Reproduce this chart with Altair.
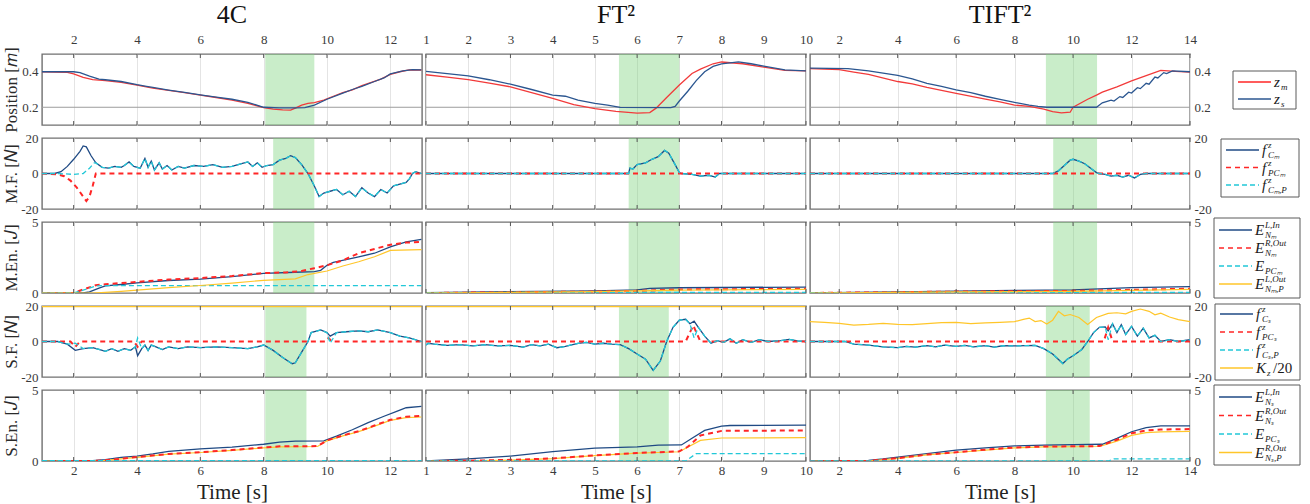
import altair as alt
import pandas as pd

FONT = "Liberation Serif"
W, H = 380, 71

# ---------------- data (time [s], value) ----------------
# column 1 : 4C
zm_4c = [(1.0,.400),(1.8,.396),(2.0,.388),(2.3,.368),(2.6,.356),(3.0,.350),(3.5,.340),(4.0,.325),(4.5,.308),(5.0,.295),(5.5,.282),(6.0,.268),(6.5,.255),(7.0,.240),(7.5,.222),(8.0,.198),(8.3,.190),(8.6,.185),(8.85,.184),(9.0,.195),(9.2,.212),(9.4,.222),(9.6,.226),(9.9,.240),(10.2,.262),(10.5,.282),(10.8,.298),(11.1,.322),(11.4,.340),(11.7,.358),(12.0,.385),(12.3,.400),(12.6,.410),(12.98,.410)]
zs_4c = [(1.0,.400),(2.0,.400),(2.2,.395),(2.5,.375),(2.8,.358),(3.0,.355),(3.5,.345),(4.0,.327),(4.3,.318),(4.5,.312),(5.0,.297),(5.5,.284),(6.0,.270),(6.5,.257),(7.0,.245),(7.5,.228),(8.0,.200),(8.5,.196),(9.0,.196),(9.3,.198),(9.6,.212),(10.0,.245),(10.5,.280),(10.8,.300),(11.1,.318),(11.5,.345),(11.8,.365),(12.0,.388),(12.4,.405),(12.7,.412),(12.98,.410)]
fcm_4c = [(1.0,0),(1.4,0),(1.6,1),(1.8,4),(2.0,8),(2.2,12.5),(2.3,15.5),(2.4,15),(2.55,10),(2.7,6),(2.9,3.5),(3.1,3),(3.3,4),(3.5,3.5),(3.6,4.5),(3.75,6.5),(3.9,4),(4.1,3),(4.25,8.5),(4.35,3.5),(4.45,7),(4.55,2),(4.7,6),(4.8,2.5),(4.95,4.5),(5.1,2),(5.3,4),(5.5,3),(5.8,4.5),(6.1,4),(6.4,5),(6.7,3.5),(7.0,4),(7.3,5.5),(7.5,6.5),(7.65,4),(7.8,6),(7.95,3.5),(8.1,4.5),(8.3,5),(8.5,7.5),(8.7,8.5),(8.85,10),(9.0,9),(9.2,5),(9.4,0),(9.6,-7),(9.75,-13),(9.9,-11),(10.1,-10),(10.3,-9),(10.5,-12),(10.7,-10),(10.9,-13),(11.1,-8),(11.3,-11),(11.5,-13),(11.7,-9),(11.9,-11),(12.1,-7),(12.3,-6),(12.5,-5),(12.6,-3),(12.7,0),(12.8,1),(12.98,0)]
fcmp_4c_start = [(1.0,0),(1.5,0),(2.0,-0.5),(2.3,0),(2.5,3),(2.65,6)]
fpcm_4c = [(1.0,0),(1.5,-0.5),(1.7,-1.5),(1.9,-4),(2.1,-8),(2.3,-13),(2.4,-15.5),(2.5,-13),(2.6,-7),(2.7,0),(12.98,0)]
eml_4c = [(1,0),(2.3,0),(2.5,0.08),(2.8,0.35),(3.0,0.5),(3.5,0.6),(4.0,0.72),(5.0,0.88),(6.0,0.98),(7.0,1.15),(8.0,1.38),(9.0,1.46),(9.6,1.5),(9.8,1.6),(10.0,1.95),(10.2,2.15),(10.6,2.35),(11.0,2.55),(11.5,2.8),(12.0,3.25),(12.5,3.6),(12.98,3.78)]
emr_4c = [(1,0),(2.0,0),(2.3,0.25),(2.7,0.55),(3.0,0.62),(4.0,0.78),(5.0,0.95),(6.0,1.05),(7.0,1.2),(8.0,1.4),(8.7,1.45),(9.2,1.55),(9.6,1.75),(10.0,1.95),(10.5,2.3),(11.0,2.8),(11.5,3.1),(12.0,3.4),(12.5,3.55),(12.98,3.6)]
emc_4c = [(1,0),(2.0,0),(2.3,0.2),(2.7,0.5),(3.0,0.52),(12.98,0.52)]
emp_4c = [(1,0),(2.6,0),(3.0,0.05),(3.5,0.12),(4.0,0.2),(5.0,0.38),(6.0,0.53),(7.0,0.7),(8.0,0.89),(9.0,1.0),(9.4,1.3),(10.0,1.55),(10.5,1.9),(11.0,2.2),(11.5,2.55),(12.0,3.0),(12.98,3.05)]
kz_4c = [(1,19.6),(12.98,19.6)]
fcs_4c = [(1,0),(1.5,0),(1.8,-1.5),(2.05,-5),(2.3,-4),(2.6,-3.5),(2.8,-4.5),(3.0,-5.5),(3.2,-4),(3.4,-5.5),(3.6,-4),(3.8,-5),(3.95,-3),(4.02,-8),(4.15,-4),(4.25,-2),(4.35,-5),(4.45,-2),(4.6,-3),(4.8,-4.5),(5.0,-3),(5.3,-4),(5.6,-3),(6.0,-3.5),(6.5,-3),(7.0,-3.5),(7.5,-4),(7.8,-3),(8.0,-2),(8.3,-5),(8.6,-9),(8.9,-12.5),(9.0,-12),(9.2,-6),(9.4,0),(9.5,5),(9.8,6.5),(10.0,5),(10.1,3),(10.3,5),(10.6,5.5),(11.0,6),(11.3,5.5),(11.6,6.5),(12.0,5),(12.3,3),(12.6,2),(12.98,0)]
fcsp_4c_spikes = {2.05: -1.0, 4.02: 2.0, 10.1: -1.0}
fpcs_4c = [(1,0),(1.9,0),(2.05,-3),(2.2,0),(3.9,0),(4.02,-3),(4.15,0),(9.95,0),(10.05,2),(10.15,0),(12.98,0)]
esl_4c = [(1,0),(2.5,0),(3.0,0.1),(3.5,0.25),(4.0,0.35),(4.5,0.5),(5.0,0.68),(6.0,0.85),(7.0,0.97),(8.0,1.18),(8.5,1.33),(9.0,1.4),(9.9,1.42),(10.3,1.75),(10.8,2.2),(11.3,2.7),(11.8,3.15),(12.2,3.5),(12.5,3.75),(12.98,3.85)]
esr_4c = [(1,0),(2.5,0),(3.0,0.05),(4.0,0.28),(5.0,0.5),(6.0,0.62),(7.0,0.77),(8.0,0.95),(8.5,1.03),(9.7,1.05),(10.0,1.45),(10.5,1.8),(11.0,2.1),(11.5,2.5),(12.0,2.9),(12.5,3.12),(12.98,3.18)]
esc_4c = [(1,0.02),(12.98,0.02)]
esp_4c = [(1,0),(2.5,0),(3.0,0.04),(4.0,0.25),(5.0,0.48),(6.0,0.6),(7.0,0.75),(8.0,0.93),(8.5,1.0),(9.7,1.02),(10.0,1.42),(10.5,1.77),(11.0,2.07),(11.5,2.46),(12.0,2.86),(12.5,3.06),(12.98,3.1)]

# column 2 : FT^2
zm_ft = [(1,.383),(1.5,.370),(2,.356),(2.5,.336),(3,.315),(3.5,.283),(4,.250),(4.5,.215),(5,.192),(5.5,.177),(6,.167),(6.3,.170),(6.45,.195),(6.7,.255),(7.0,.325),(7.3,.390),(7.5,.415),(7.8,.445),(8,.455),(8.5,.445),(9,.426),(9.5,.408),(10,.405)]
zs_ft = [(1,.402),(1.5,.390),(2,.377),(2.5,.355),(3,.330),(3.5,.300),(4,.268),(4.3,.262),(4.6,.240),(5,.222),(5.3,.212),(5.6,.199),(6.8,.198),(6.9,.205),(7.0,.235),(7.2,.290),(7.4,.350),(7.6,.400),(7.8,.430),(8.0,.444),(8.4,.456),(8.7,.445),(9,.432),(9.5,.410),(10,.405)]
fcm_ft = [(1,0),(5.8,0),(5.83,3),(5.9,2.5),(6.0,5),(6.2,6),(6.35,8),(6.5,9.5),(6.65,13),(6.75,11.5),(6.9,5),(7.0,0.5),(7.05,0),(7.3,-0.5),(7.5,-1.5),(7.7,-1),(7.85,-2),(7.95,0),(10,0)]
fpcm_ft = [(1,0),(10,0)]
eml_ft = [(1,0.03),(5,0.15),(6,0.22),(6.3,0.33),(7,0.37),(10,0.42)]
emr_ft = [(1,0),(5,0.1),(6,0.15),(7,0.25),(10,0.3)]
emc_ft = [(1,0.03),(10,0.05)]
emp_ft = [(1,0),(5,0.1),(7,0.2),(10,0.25)]
kz_ft = [(1,19.6),(10,19.6)]
fcs_ft = [(1,-2),(1.05,-1),(1.2,-1.5),(1.5,-2.2),(1.8,-1.8),(2.1,-2.5),(2.4,-1.8),(2.7,-2.5),(3.0,-2.2),(3.3,-3.2),(3.5,-1.8),(3.7,-2.5),(3.9,-1.5),(4.1,-3.5),(4.3,-2.8),(4.6,-1),(4.8,-0.5),(5.0,-1.5),(5.2,-1),(5.4,-1.5),(5.6,-1.8),(5.8,-4),(6.0,-7),(6.2,-10),(6.38,-16.3),(6.55,-11),(6.7,0),(6.85,8),(7.0,12),(7.15,12.5),(7.25,10),(7.35,11.5),(7.45,8),(7.6,3),(7.75,-1),(7.9,0.5),(8.05,-0.5),(8.2,1.5),(8.35,-1),(8.5,1),(8.7,-0.5),(8.9,1),(9.1,0),(9.4,0.5),(9.6,1.2),(9.8,0.3),(10,0)]
fcsp_ft_spikes = {7.35: 2.0}
fpcs_ft = [(1,0),(7.15,0),(7.33,9),(7.5,0),(10,0)]
esl_ft = [(1,0),(2,0.15),(3,0.35),(4,0.66),(5,0.9),(6,1.0),(6.5,1.12),(7.05,1.13),(7.3,1.6),(7.6,2.15),(8,2.45),(8.2,2.5),(10,2.52)]
esr_ft = [(1,0),(2,0.02),(3,0.08),(4,0.18),(5,0.4),(6,0.57),(6.5,0.62),(7,0.68),(7.2,1.0),(7.5,1.8),(8,2.12),(10,2.15)]
esc_ft = [(1,0),(7.15,0),(7.4,0.52),(10,0.52)]
esp_ft = [(1,0),(2,0.01),(3,0.06),(4,0.17),(5,0.38),(6,0.55),(6.5,0.6),(7,0.65),(7.15,0.9),(7.5,1.45),(8,1.62),(10,1.65)]

# column 3 : TIFT^2
zm_ti = [(1,.418),(2,.412),(2.5,.398),(3,.385),(4,.345),(4.5,.332),(5,.312),(6,.278),(7,.246),(7.5,.230),(8,.212),(8.5,.205),(9,.190),(9.3,.175),(9.6,.168),(9.9,.172),(10.0,.20),(10.5,.245),(10.8,.268),(11,.285),(11.5,.315),(12,.348),(12.5,.378),(13,.408),(13.5,.402),(14,.398)]
zs_ti = [(1,.42),(2.3,.418),(3,.405),(4,.38),(4.5,.36),(5,.335),(5.5,.318),(6,.298),(6.5,.282),(7,.262),(7.5,.245),(8,.227),(8.5,.212),(8.8,.205),(9.1,.2),(10.8,.2),(11,.225),(11.3,.24),(11.4,.235),(11.6,.26),(11.7,.255),(11.9,.285),(12.0,.28),(12.2,.31),(12.3,.305),(12.5,.335),(12.6,.33),(12.8,.37),(12.9,.365),(13.1,.395),(13.2,.39),(13.4,.405),(14,.40)]
fcm_ti = [(1,0),(9.3,0),(9.5,1.5),(9.7,4.5),(9.9,7.5),(10.0,8),(10.2,7),(10.4,5.5),(10.6,3),(10.8,0.5),(10.9,0),(11.1,-0.5),(11.3,-1.5),(11.5,-1),(11.7,-2),(11.9,-1),(12.1,-2.5),(12.3,-0.5),(12.5,0),(14,0)]
fpcm_ti = [(1,0),(14,0)]
eml_ti = [(1,0),(4,0.08),(8,0.18),(10,0.22),(12,0.38),(14,0.45)]
emr_ti = [(1,0),(6,0.1),(10,0.15),(14,0.3)]
emc_ti = [(1,0.03),(14,0.05)]
emp_ti = [(1,0),(6,0.08),(10,0.12),(14,0.25)]
kz_ti = [(1,11.2),(1.5,10.8),(2,10.2),(2.5,9.2),(3,9.6),(3.5,10.2),(4,9.6),(4.5,9.5),(5,10.1),(5.5,10.6),(6,10.8),(6.5,10.1),(7,10.5),(7.5,10.8),(8,11.2),(8.3,12.5),(8.5,13.2),(8.7,11.2),(8.9,11.8),(9.1,9.8),(9.3,12),(9.5,17),(9.7,14.5),(9.9,15.2),(10.2,13.5),(10.5,9.6),(10.8,13.5),(11.2,15.8),(11.5,16.2),(11.8,15.6),(12.0,17),(12.3,18.3),(12.6,17),(12.8,15),(13,16),(13.3,13.8),(13.6,12.3),(14,11.2)]
fcs_ti = [(1,0),(2.2,0),(2.5,-1.5),(3,-2),(3.5,-3),(4,-3.5),(4.3,-2.8),(4.6,-3.2),(5,-2.3),(5.3,-3),(5.6,-2),(6,-2.8),(6.3,-2.2),(6.6,-3),(7,-2.3),(7.3,-3.2),(7.6,-2.4),(8,-2.5),(8.7,-2.2),(9.0,-4),(9.3,-7),(9.65,-12.4),(9.8,-10),(10.0,-8),(10.3,-4.5),(10.5,0),(10.7,5),(10.9,8),(11.1,8.2),(11.2,6),(11.35,10),(11.5,5),(11.65,9.5),(11.8,4),(12.0,8.5),(12.2,3),(12.4,7.5),(12.6,2),(12.8,3.5),(13,0),(13.3,1),(13.6,0),(14,1)]
fcsp_ti_spikes = {11.2: 1.0}
fpcs_ti = [(1,0),(11.05,0),(11.2,8),(11.35,0),(14,0)]
esl_ti = [(1,0),(3,0.05),(3.5,0.15),(4,0.28),(5,0.52),(6,0.76),(7,0.92),(8,1.06),(9,1.12),(10,1.16),(11,1.18),(11.5,1.6),(12,2.06),(12.5,2.35),(13,2.48),(14,2.48)]
esr_ti = [(1,0),(3,0),(4,0.2),(5,0.45),(6,0.62),(7,0.8),(8,0.95),(9,1.02),(10.9,1.05),(11.5,1.5),(12,1.95),(12.5,2.15),(13,2.22),(14,2.25)]
esc_ti = [(1,0),(11.2,0),(11.4,0.15),(14,0.15)]
esp_ti = [(1,0),(3,0),(4,0.18),(5,0.43),(6,0.6),(7,0.77),(8,0.92),(9,1.0),(10.9,1.02),(11.5,1.4),(12,1.8),(12.5,2.0),(13,2.05),(14,2.08)]

# contact (green) intervals per row
bands_4c = [(8.05, 9.6), (8.3, 9.6), (8.3, 9.6), (8.05, 9.35), (8.05, 9.35)]
bands_ft = [(5.57, 7.0), (5.8, 7.0), (5.8, 7.0), (5.57, 6.75), (5.57, 6.75)]
bands_ti = [(9.07, 10.82), (9.32, 10.82), (9.32, 10.82), (9.07, 10.57), (9.07, 10.57)]

pos_ref = [0.2]

col_titles = ["4C", "FT\u00b2", "TIFT\u00b2"]
x_domains = [[1, 13], [1, 10], [1, 14]]
x_ticks = [[2, 4, 6, 8, 10, 12], [1, 2, 3, 4, 5, 6, 7, 8, 9, 10], [2, 4, 6, 8, 10, 12, 14]]
y_domains = [[0.1, 0.5], [-20, 20], [0, 5], [-20, 20], [0, 5]]
y_ticks = [[0.2, 0.4], [-20, 0, 20], [0, 5], [-20, 0, 20], [0, 5]]
y_titles = ["Position [\U0001D45A]", "M.F. [\U0001D441]", "M.En. [\U0001D43D]", "S.F. [\U0001D441]", "S.En. [\U0001D43D]"]
x_title = "Time [s]"

# ---------------- styles ----------------
RED = "#ff2626"
BLUE = "#1f4a84"
CYAN = "#22c8d8"
YEL = "#ffc62a"
S_POS_M = dict(color="#f23a3a", strokeWidth=1.3)
S_POS_S = dict(color="#2b5690", strokeWidth=1.3)
S_BLUE = dict(color=BLUE, strokeWidth=1.3)
S_RED = dict(color=RED, strokeWidth=2.0, strokeDash=[5, 4])
S_CYAN = dict(color=CYAN, strokeWidth=1.3, strokeDash=[5, 3])
S_YEL = dict(color=YEL, strokeWidth=1.2)


def with_spikes(pts, spikes):
    return [(t, spikes.get(t, v)) for t, v in pts]


series = [
    [  # 4C
        [(zm_4c, S_POS_M), (zs_4c, S_POS_S)],
        [(fcm_4c, S_BLUE), (fpcm_4c, S_RED), (fcmp_4c_start + [p for p in fcm_4c if p[0] >= 2.7], S_CYAN)],
        [(eml_4c, S_BLUE), (emr_4c, S_RED), (emc_4c, S_CYAN), (emp_4c, S_YEL)],
        [(kz_4c, S_YEL), (fcs_4c, S_BLUE), (fpcs_4c, S_RED), (with_spikes(fcs_4c, fcsp_4c_spikes), S_CYAN)],
        [(esl_4c, S_BLUE), (esp_4c, S_YEL), (esr_4c, S_RED), (esc_4c, S_CYAN)],
    ],
    [  # FT2
        [(zm_ft, S_POS_M), (zs_ft, S_POS_S)],
        [(fcm_ft, S_BLUE), (fpcm_ft, S_RED), (fcm_ft, S_CYAN)],
        [(eml_ft, S_BLUE), (emr_ft, S_RED), (emc_ft, S_CYAN), (emp_ft, S_YEL)],
        [(kz_ft, S_YEL), (fcs_ft, S_BLUE), (fpcs_ft, S_RED), (with_spikes(fcs_ft, fcsp_ft_spikes), S_CYAN)],
        [(esl_ft, S_BLUE), (esp_ft, S_YEL), (esr_ft, S_RED), (esc_ft, S_CYAN)],
    ],
    [  # TIFT2
        [(zm_ti, S_POS_M), (zs_ti, S_POS_S)],
        [(fcm_ti, S_BLUE), (fpcm_ti, S_RED), (fcm_ti, S_CYAN)],
        [(eml_ti, S_BLUE), (emr_ti, S_RED), (emc_ti, S_CYAN), (emp_ti, S_YEL)],
        [(kz_ti, S_YEL), (fcs_ti, S_BLUE), (fpcs_ti, S_RED), (with_spikes(fcs_ti, fcsp_ti_spikes), S_CYAN)],
        [(esl_ti, S_BLUE), (esp_ti, S_YEL), (esr_ti, S_RED), (esc_ti, S_CYAN)],
    ],
]
bands = [bands_4c, bands_ft, bands_ti]

LABEL_EXPR = "'' + datum.value"


def panel(c, r):
    xsc = alt.Scale(domain=x_domains[c], nice=False, zero=False)
    ysc = alt.Scale(domain=y_domains[r], nice=False, zero=False)
    xa = dict(values=x_ticks[c], grid=True, gridColor="#e4e4e4", gridWidth=1, ticks=False, domain=False,
              labelFont=FONT, labelFontSize=13, labelColor="#3a3a3a", labelFlush=False, labelOverlap=False,
              labelExpr=LABEL_EXPR)
    if r == 0:
        xaxis = alt.Axis(orient="top", labels=True, labelPadding=8, title=None, **xa)
    elif r == 4:
        xaxis = alt.Axis(orient="bottom", labels=True, labelPadding=3, title=x_title,
                         titleFont=FONT, titleFontSize=21, titleFontWeight="normal", titleColor="#222",
                         titlePadding=4, **xa)
    else:
        xaxis = alt.Axis(orient="bottom", labels=False, title=None, **xa)
    ya = dict(values=y_ticks[r], grid=False, ticks=False, domain=False, labelFont=FONT, labelFontSize=13,
              labelColor="#3a3a3a", labelFlush=False, labelOverlap=False, labelExpr=LABEL_EXPR,
              labelPadding=4, minExtent=20, maxExtent=20)
    if c == 0:
        yaxis = alt.Axis(orient="left", title=y_titles[r], titleFont=FONT, titleFontSize=17,
                         titleFontWeight="normal", titleColor="#2a2a2a", titlePadding=2, **ya)
    elif c == 2:
        yaxis = alt.Axis(orient="right", title=None, **ya)
    else:
        yaxis = None

    def X(f):
        return alt.X(f, type="quantitative", scale=xsc, axis=xaxis)

    def Y(f):
        return alt.Y(f, type="quantitative", scale=ysc, axis=yaxis)

    b0, b1 = bands[c][r]
    layers = [
        alt.Chart(pd.DataFrame({"a": [b0], "b": [b1]})).mark_rect(fill="#7fd47f", opacity=0.42)
        .encode(x=X("a"), x2=alt.X2("b"))
    ]
    if r == 0:
        layers.append(alt.Chart(pd.DataFrame({"v": pos_ref})).mark_rule(color="#9c9c9c", strokeWidth=1)
                      .encode(y=Y("v")))
    for pts, st in series[c][r]:
        df = pd.DataFrame(pts, columns=["t", "v"])
        layers.append(alt.Chart(df).mark_line(clip=True, **st).encode(x=X("t"), y=Y("v")))
    tdf = pd.DataFrame({"t": x_ticks[c]})
    layers.append(alt.Chart(tdf).mark_rule(color="#555555", strokeWidth=1)
                  .encode(x=X("t"), y=alt.value(0), y2=alt.value(4)))
    layers.append(alt.Chart(tdf).mark_rule(color="#555555", strokeWidth=1)
                  .encode(x=X("t"), y=alt.value(H - 4), y2=alt.value(H)))
    props = dict(width=W, height=H)
    if r == 0:
        props["title"] = alt.TitleParams(col_titles[c], font=FONT, fontSize=26, fontWeight="normal",
                                         color="#111111", anchor="middle", offset=5)
    return alt.layer(*layers).properties(**props)


# ---------------- custom legends ----------------
LW = 108
DASH_RED = [5, 4]
DASH_CYAN = [5, 3]
legend_items = [
    [(RED, None, "z", "", "m", ""), ("#2b5690", None, "z", "", "s", "")],
    [(BLUE, None, "f", "z", "C\u2098", ""), (RED, DASH_RED, "f", "z", "PC\u2098", ""),
     (CYAN, DASH_CYAN, "f", "z", "C\u2098,P", "")],
    [(BLUE, None, "E", "L,In", "N\u2098", ""), (RED, DASH_RED, "E", "R,Out", "N\u2098", ""),
     (CYAN, DASH_CYAN, "E", "", "PC\u2098", ""), (YEL, None, "E", "L,Out", "N\u2098,P", "")],
    [(BLUE, None, "f", "z", "C\u209b", ""), (RED, DASH_RED, "f", "z", "PC\u209b", ""),
     (CYAN, DASH_CYAN, "f", "z", "C\u209b,P", ""), (YEL, None, "K", "", "z", "/20")],
    [(BLUE, None, "E", "L,In", "N\u209b", ""), (RED, DASH_RED, "E", "R,Out", "N\u209b", ""),
     (CYAN, DASH_CYAN, "E", "", "PC\u209b", ""), (YEL, None, "E", "R,Out", "N\u209b,P", "")],
]
# box geometry per legend: (x0, x1, y0, y1, first item y, item step)
legend_boxes = [(39, 102, 17, 55, 28, 17), (27, 105, 1, 59, 12, 17.5), (20, 106, -4, 76, 8, 18),
                (21, 106, -2, 74, 8, 18), (20, 106, -5, 75, 7, 18.5)]
MAIN_W = {"z": 7, "f": 6, "E": 10, "K": 11}
dummy = pd.DataFrame({"d": [0]})


def txt(text, x, y, size, italic=True, align="left"):
    kw = dict(text=text, font=FONT, fontSize=size, align=align, baseline="middle", color="#1a1a1a")
    if italic:
        kw["fontStyle"] = "italic"
    return alt.Chart(dummy).mark_text(**kw).encode(x=alt.value(x), y=alt.value(y))


def legend(r):
    x0, x1, y0, y1, yf, step = legend_boxes[r]
    layers = [alt.Chart(dummy).mark_rect(fill="white", stroke="#5a5a5a", strokeWidth=1)
              .encode(x=alt.value(x0), x2=alt.value(x1), y=alt.value(y0), y2=alt.value(y1))]
    for i, (col, dash, main, sup, sub, tail) in enumerate(legend_items[r]):
        y = yf + i * step
        rk = dict(color=col, strokeWidth=1.5)
        if dash is not None:
            rk["strokeDash"] = dash
        layers.append(alt.Chart(dummy).mark_rule(**rk)
                      .encode(x=alt.value(x0 + 5), x2=alt.value(x0 + 38), y=alt.value(y)))
        tx = x0 + 41
        layers.append(txt(main, tx, y, 15))
        sx = tx + MAIN_W[main]
        if sup:
            layers.append(txt(sup, sx, y - 5, 9))
        if sub:
            layers.append(txt(sub, sx, y + 5, 9))
        if tail:
            layers.append(txt(tail, sx + 6, y, 15, italic=False))
    return alt.layer(*layers).properties(width=LW, height=H, view=alt.ViewBackground(strokeOpacity=0))


charts = []
for r in range(5):
    for c in range(3):
        charts.append(panel(c, r))
    charts.append(legend(r))

chart = alt.concat(
    *charts, columns=4, spacing=alt.RowColnumber(row=13, column=4), bounds="flush", align="each"
).properties(
    padding={"left": 1, "top": 1, "right": 2, "bottom": 2}
).configure(font=FONT).configure_view(stroke="#707070", strokeWidth=1.4)

chart.save("out.html", embed_options={"renderer": "svg", "actions": False})
